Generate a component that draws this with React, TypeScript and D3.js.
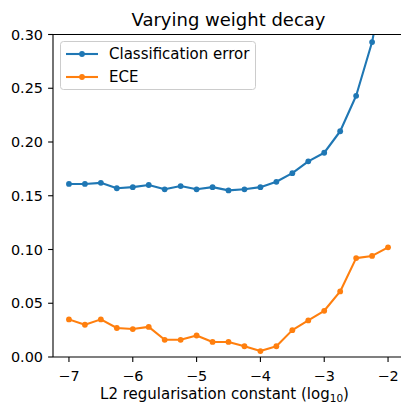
import { useEffect, useRef } from 'react';
import * as d3 from 'd3';

// log10 of the L2 constant
const decay = [-7, -6.75, -6.5, -6.25, -6, -5.75, -5.5, -5.25, -5, -4.75, -4.5, -4.25, -4, -3.75, -3.5, -3.25, -3, -2.75, -2.5, -2.25, -2];
const classError = [0.161, 0.161, 0.162, 0.157, 0.158, 0.16, 0.156, 0.159, 0.156, 0.158, 0.155, 0.156, 0.158, 0.163, 0.171, 0.182, 0.19, 0.21, 0.243, 0.293, 0.37];
const ece = [0.035, 0.03, 0.035, 0.027, 0.026, 0.028, 0.016, 0.016, 0.02, 0.014, 0.014, 0.01, 0.0055, 0.01, 0.025, 0.034, 0.043, 0.061, 0.092, 0.094, 0.102];
const xTicks = [-7, -6, -5, -4, -3, -2];
const yTicks = [0, 0.05, 0.1, 0.15, 0.2, 0.25, 0.3];
const series = [
  { name: 'Classification error', values: classError, color: '#1f77b4' },
  { name: 'ECE', values: ece, color: '#ff7f0e' },
];

const W = 401;
const H = 406;
const FONT = "'DejaVu Sans', sans-serif";

export default function App() {
  const ref = useRef<SVGSVGElement>(null);

  useEffect(() => {
    const svg = d3.select(ref.current);
    svg.selectAll('*').remove();

    const left = 53, right = 404, top = 34.5, bottom = 357;
    const x = d3.scaleLinear().domain([-7.25, -1.75]).range([left, right]);
    const y = d3.scaleLinear().domain([0, 0.3]).range([bottom, top]);

    svg.append('rect').attr('width', W).attr('height', H).attr('fill', '#fff');

    svg.append('defs').append('clipPath').attr('id', 'plot-clip')
      .append('rect').attr('x', left).attr('y', top).attr('width', right - left).attr('height', bottom - top);

    // ── 선 + 점 ─────────────────────────────
    const plot = svg.append('g').attr('clip-path', 'url(#plot-clip)');
    series.forEach(s => {
      const line = d3.line<number>().x((_, i) => x(decay[i])).y(d => y(d));
      plot.append('path').attr('d', line(s.values)).attr('fill', 'none')
        .attr('stroke', s.color).attr('stroke-width', 2.1).attr('stroke-linejoin', 'round').attr('stroke-linecap', 'square');
      plot.selectAll(null).data(s.values).enter().append('circle')
        .attr('cx', (_, i) => x(decay[i])).attr('cy', d => y(d)).attr('r', 2.9).attr('fill', s.color);
    });

    // ── 축 ──────────────────────────────────
    const axisG = svg.append('g').attr('font-family', FONT).attr('font-size', 14.4).attr('fill', '#000');
    axisG.append('line').attr('x1', left).attr('x2', left).attr('y1', top).attr('y2', bottom).attr('stroke', '#000').attr('stroke-width', 1.1);
    axisG.append('line').attr('x1', left).attr('x2', W + 5).attr('y1', bottom).attr('y2', bottom).attr('stroke', '#000').attr('stroke-width', 1.1);
    axisG.append('line').attr('x1', left).attr('x2', W + 5).attr('y1', top).attr('y2', top).attr('stroke', '#000').attr('stroke-width', 1.1);

    xTicks.forEach(t => {
      axisG.append('line').attr('x1', x(t)).attr('x2', x(t)).attr('y1', bottom).attr('y2', bottom + 4.9).attr('stroke', '#000').attr('stroke-width', 1.1);
      axisG.append('text').attr('x', x(t)).attr('y', bottom + 24).attr('text-anchor', 'middle')
        .text(`\u2212${Math.abs(t)}`);
    });
    yTicks.forEach(t => {
      axisG.append('line').attr('x1', left - 4.9).attr('x2', left).attr('y1', y(t)).attr('y2', y(t)).attr('stroke', '#000').attr('stroke-width', 1.1);
      axisG.append('text').attr('x', left - 10).attr('y', y(t) + 5).attr('text-anchor', 'end')
        .text(d3.format('.2f')(t));
    });

    const xl = axisG.append('text').attr('x', (left + right) / 2 - 4).attr('y', 399).attr('font-size', 15).attr('text-anchor', 'middle');
    xl.append('tspan').text('L2 regularisation constant (log');
    xl.append('tspan').attr('font-size', 10.5).attr('dy', 3).text('10');
    xl.append('tspan').attr('dy', -3).text(')');

    svg.append('text').attr('x', (left + right) / 2).attr('y', 26).attr('text-anchor', 'middle')
      .attr('font-family', FONT).attr('font-size', 18).text('Varying weight decay');

    // ── 범례 ────────────────────────────────
    const lg = svg.append('g').attr('font-family', FONT).attr('font-size', 15);
    lg.append('rect').attr('x', 60.5).attr('y', 41.5).attr('width', 195).attr('height', 48).attr('rx', 3)
      .attr('fill', '#fff').attr('fill-opacity', 0.8).attr('stroke', '#ccc').attr('stroke-width', 1);
    series.forEach((s, i) => {
      const ly = 54 + i * 23;
      lg.append('line').attr('x1', 66).attr('x2', 98).attr('y1', ly).attr('y2', ly).attr('stroke', s.color).attr('stroke-width', 2.1);
      lg.append('circle').attr('cx', 82).attr('cy', ly).attr('r', 2.9).attr('fill', s.color);
      lg.append('text').attr('x', 109).attr('y', ly + 5).text(s.name);
    });
  }, []);

  return <svg ref={ref} width={W} height={H} style={{ display: 'block', position: 'absolute', left: 0, top: 0 }} />;
}
